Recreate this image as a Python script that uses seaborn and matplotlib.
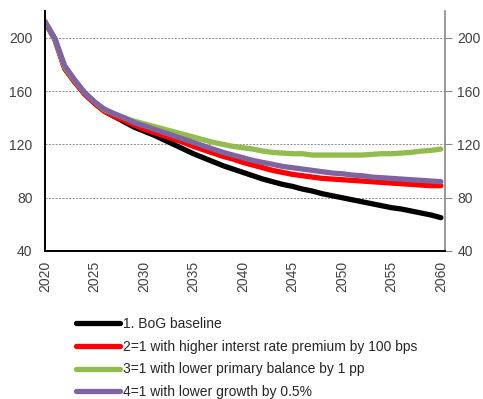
import numpy as np
import pandas as pd
import matplotlib
matplotlib.use("Agg")
import matplotlib.pyplot as plt
import seaborn as sns

## Data (debt ratio, % of GDP)
years = list(range(2020, 2061))

baseline = [212, 199, 177, 167, 158, 151, 145, 141, 137, 133,
            130, 127, 123.5, 120, 116.5, 113, 110, 107, 104, 101.5,
            99, 96.5, 94, 92, 90, 88.5, 86.5, 85, 83, 81.5,
            80, 78.5, 77, 75.5, 74, 72.5, 71.5, 70, 68.5, 67, 65]

higher_rate = [212, 199, 177, 167, 158, 151, 145, 141, 138, 134.5,
               131.5, 129, 126.5, 124, 121.5, 118.5, 116, 113.5, 111, 109,
               106.5, 104.5, 102.5, 100.5, 99, 97.5, 96.5, 95.5, 94.5, 94,
               93.5, 93, 92.5, 92, 91.5, 91, 90.5, 90, 89.5, 89, 89]

lower_balance = [212, 199, 178, 168, 159, 152, 146, 143, 140, 137.5,
                 135.5, 133.5, 131.5, 129.5, 127.5, 125.5, 123.5, 121.5, 120, 118.5,
                 117.5, 116.5, 115, 114, 113.5, 113, 113, 112, 112, 112,
                 112, 112, 112, 112.5, 113, 113, 113.5, 114, 115, 115.5, 116.5]

lower_growth = [212, 199.5, 179, 168.5, 159, 152, 146.5, 143, 140, 136.5,
                134, 131.5, 129, 126.5, 124, 121.5, 119, 116.5, 114, 112,
                110, 108, 106.5, 105, 103.5, 102.5, 101.5, 100.5, 99.5, 98.5,
                98, 97, 96.5, 95.5, 95, 94.5, 94, 93.5, 93, 92.5, 92]

labels = ["1. BoG baseline",
          "2=1 with higher interst rate premium by 100 bps",
          "3=1 with lower primary balance by 1 pp",
          "4=1 with lower growth by 0.5%"]
colors = ["#000000", "#ff0000", "#92bc4f", "#8064a2"]

series = [baseline, higher_rate, lower_balance, lower_growth]
df = pd.concat([pd.DataFrame({"Year": years, "Value": s, "Scenario": lab})
                for s, lab in zip(series, labels)], ignore_index=True)

sns.set_style("white")
plt.rcParams['font.family'] = ['Liberation Sans', 'DejaVu Sans']

fig = plt.figure(figsize=(4.83, 3.99), dpi=100)
ax = fig.add_axes([0.093, 0.371, 0.828, 0.601])

sns.lineplot(data=df, x="Year", y="Value", hue="Scenario", palette=colors,
             hue_order=labels, linewidth=3.8, ax=ax, legend=False)

ax.set_xlim(2020, 2060.4)
ax.set_ylim(40, 220)
ax.set_yticks([40, 80, 120, 160, 200])
ax.set_xticks(range(2020, 2061, 5))
ax.set_xticks(range(2020, 2061), minor=True)
ax.set_xlabel("")
ax.set_ylabel("")

for y in [80, 120, 160, 200]:
    ax.axhline(y, color="#8c8c8c", linestyle=(0, (2, 1.5)), linewidth=0.7, zorder=0)

ax.tick_params(axis="x", which="both", direction="out", length=5, width=1,
               color="black", labelrotation=90, labelsize=10, labelcolor="#404040", pad=2)
ax.tick_params(axis="y", left=False, right=True, labelleft=True, labelright=True,
               direction="out", length=5, color="#888888", labelsize=10,
               labelcolor="#404040", pad=4)

ax.spines["top"].set_visible(False)
ax.spines["left"].set_color("black")
ax.spines["left"].set_linewidth(1.4)
ax.spines["bottom"].set_color("black")
ax.spines["bottom"].set_linewidth(1.4)
ax.spines["right"].set_color("#888888")
ax.spines["right"].set_linewidth(1.2)

handles = [plt.Line2D([], [], color=c, linewidth=3.8, solid_capstyle="round") for c in colors]
fig.legend(handles, labels, loc="upper left", bbox_to_anchor=(0.157, 0.205),
           frameon=False, fontsize=10, handlelength=3.2, handletextpad=0.2,
           labelspacing=0.62, labelcolor="#262626", borderaxespad=0, borderpad=0)

fig.savefig("out.png", dpi=100)
